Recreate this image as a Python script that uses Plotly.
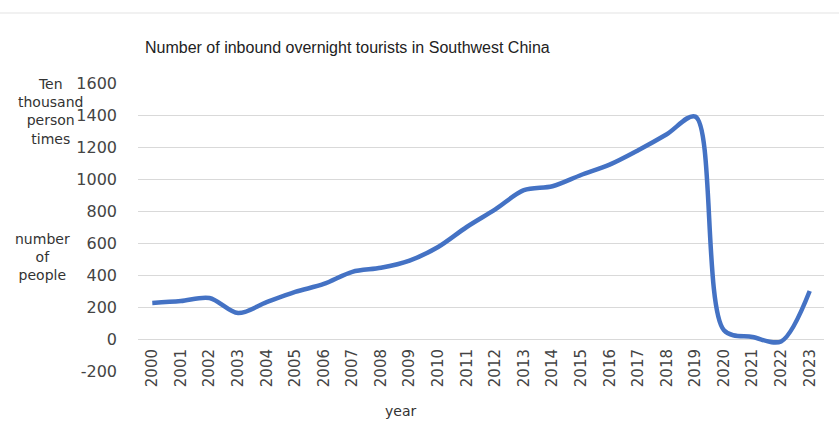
import plotly.graph_objects as go

years = [str(y) for y in range(2000, 2024)]
values = [225, 237, 256, 162, 230, 294, 344, 420, 445, 490, 575, 700,
          810, 930, 955, 1025, 1090, 1180, 1280, 1390, 55, 12, -15, 300]
y_ticks = [-200, 0, 200, 400, 600, 800, 1000, 1200, 1400, 1600]
y_tick_text = ["-200", "0", "200", "400", "600", "800", "1000", "1200", "1400", "1600"]

FONT = "DejaVu Sans"
W, H = 839, 428
ML, MR, MT, MB = 138, 15, 83, 57
PW, PH = W - ML - MR, H - MT - MB

fig = go.Figure()
fig.add_trace(go.Scatter(
    x=years, y=values, mode="lines",
    line=dict(color="#4472C4", width=4.5, shape="spline", smoothing=0.9),
    hoverinfo="x+y", showlegend=False,
))

ymin, ymax = -200, 1600
xpos = (0 - ymin) / (ymax - ymin)

fig.update_layout(
    width=W, height=H,
    margin=dict(l=ML, r=MR, t=MT, b=MB),
    paper_bgcolor="white", plot_bgcolor="white",
    title=dict(text="Number of inbound overnight tourists in Southwest China",
               x=(145 - ML) / PW, xanchor="left", xref="paper",
               y=1 - 47 / H, yanchor="middle",
               font=dict(family="Liberation Sans", size=16, color="#222222")),
    font=dict(family=FONT, size=15, color="#444444"),
    xaxis=dict(type="category", range=[-0.5, 23.5], anchor="free", position=xpos,
               showgrid=False, showline=False, zeroline=False, ticks="",
               tickangle=-90, tickfont=dict(family=FONT, size=15, color="#444444"),
               ticklabelstandoff=6),
    yaxis=dict(range=[ymin, ymax], tickvals=y_ticks, ticktext=y_tick_text, showgrid=True,
               gridcolor="#d9d9d9", gridwidth=1, zeroline=False, showline=False,
               ticks="", tickfont=dict(family=FONT, size=16, color="#444444"),
               ticklabelstandoff=20),
    shapes=[dict(type="line", xref="paper", yref="paper",
                 x0=-ML / PW, x1=1 + MR / PW, y0=1 + (MT - 13) / PH, y1=1 + (MT - 13) / PH,
                 line=dict(color="#e3e3e3", width=1))],
)

ann_font = dict(family=FONT, size=14, color="#333333")
fig.add_annotation(text="Ten<br>thousand<br>person<br>times", xref="paper", yref="paper",
                   x=(50 - ML) / PW, y=(H - MB - 111) / PH,
                   xanchor="center", yanchor="middle", showarrow=False, align="center",
                   font=ann_font)
fig.add_annotation(text="number<br>of<br>people", xref="paper", yref="paper",
                   x=(43 - ML) / PW, y=(H - MB - 257) / PH,
                   xanchor="center", yanchor="middle", showarrow=False, align="center",
                   font=ann_font)
fig.add_annotation(text="year", xref="paper", yref="paper",
                   x=(400 - ML) / PW, y=(H - MB - 411) / PH,
                   xanchor="center", yanchor="middle", showarrow=False,
                   font=ann_font)

fig.write_html("out.html")
